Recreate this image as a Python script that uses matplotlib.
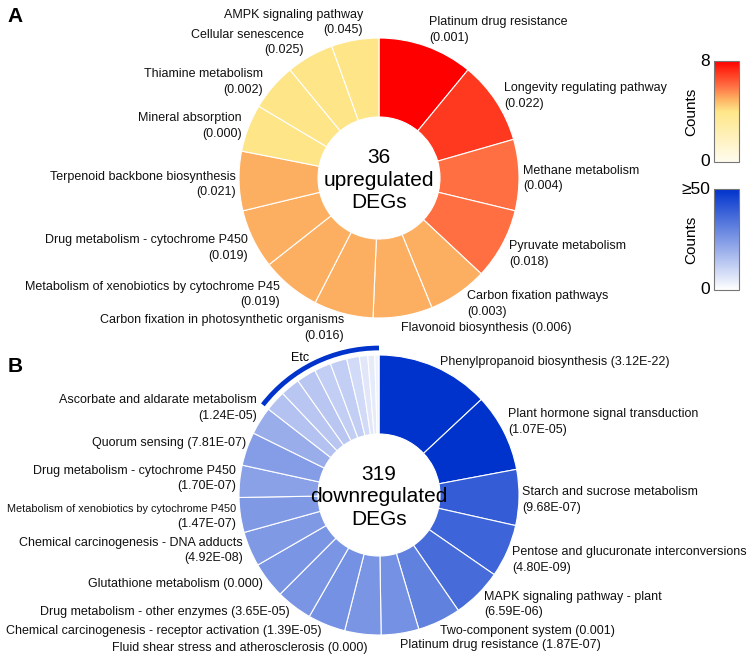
import numpy as np
import matplotlib as mpl
import matplotlib.pyplot as plt
from matplotlib.colors import LinearSegmentedColormap, Normalize
from matplotlib.patches import Arc

plt.rcParams['font.family'] = ['Liberation Sans', 'DejaVu Sans']

# upregulated DEGs (A)
up_terms = ["Platinum drug resistance", "Longevity regulating pathway", "Methane metabolism",
            "Pyruvate metabolism", "Carbon fixation pathways", "Flavonoid biosynthesis",
            "Carbon fixation in photosynthetic organisms", "Metabolism of xenobiotics by cytochrome P45",
            "Drug metabolism - cytochrome P450", "Terpenoid backbone biosynthesis",
            "Mineral absorption", "Thiamine metabolism", "Cellular senescence", "AMPK signaling pathway"]
up_p = ["0.001", "0.022", "0.004", "0.018", "0.003", "0.006", "0.016", "0.019",
        "0.019", "0.021", "0.000", "0.002", "0.025", "0.045"]
up_counts = [8, 7, 6, 6, 5, 5, 5, 5, 5, 5, 4, 4, 4, 4]

# downregulated DEGs (B)
down_terms = ["Phenylpropanoid biosynthesis", "Plant hormone signal transduction",
              "Starch and sucrose metabolism", "Pentose and glucuronate interconversions",
              "MAPK signaling pathway - plant", "Two-component system", "Platinum drug resistance",
              "Fluid shear stress and atherosclerosis", "Chemical carcinogenesis - receptor activation",
              "Drug metabolism - other enzymes", "Glutathione metabolism",
              "Chemical carcinogenesis - DNA adducts", "Metabolism of xenobiotics by cytochrome P450",
              "Drug metabolism - cytochrome P450", "Quorum sensing", "Ascorbate and aldarate metabolism"]
down_p = ["3.12E-22", "1.07E-05", "9.68E-07", "4.80E-09", "6.59E-06", "0.001", "1.87E-07",
          "0.000", "1.39E-05", "3.65E-05", "0.000", "4.92E-08", "1.47E-07", "1.70E-07",
          "7.81E-07", "1.24E-05"]
down_counts = [81, 56, 40, 38, 36, 31, 27, 26, 27, 26, 26, 25, 25, 23, 24, 20]
etc_counts = [15, 14, 14, 12, 12, 9, 6, 5, 3]

# label anchors in pixels: x, y of first line, ha, two lines, font size of term
up_pos = [(429, 22, 'left', 1, 9), (504, 88, 'left', 1, 9), (523, 171, 'left', 1, 9),
          (509, 246, 'left', 1, 9), (467, 296, 'left', 1, 9), (401, 328, 'left', 0, 9),
          (344, 320, 'right', 1, 9), (280, 287, 'right', 1, 9), (248, 240, 'right', 1, 9),
          (236, 177, 'right', 1, 9), (242, 118, 'right', 1, 9), (263, 74, 'right', 1, 9),
          (304, 35, 'right', 1, 9), (363, 15, 'right', 1, 9)]
down_pos = [(440, 362, 'left', 0, 9), (508, 414, 'left', 1, 9), (522, 492, 'left', 1, 9),
            (512, 552, 'left', 1, 9), (484, 597, 'left', 1, 9), (440, 631, 'left', 0, 9),
            (400, 645, 'left', 0, 9), (367, 648, 'right', 0, 9), (322, 631, 'right', 0, 9),
            (290, 612, 'right', 0, 9), (263, 584, 'right', 0, 9), (243, 543, 'right', 1, 9),
            (236, 509, 'right', 1, 7.8), (236, 471, 'right', 1, 9), (246, 443, 'right', 0, 9),
            (257, 400, 'right', 1, 9)]

W, H = 747, 661
R, RIN = 140, 61
GAP = 15.5

fig = plt.figure(figsize=(W / 100, H / 100), dpi=100)
ax = fig.add_axes([0, 0, 1, 1])

cmap_up = LinearSegmentedColormap.from_list(
    'up', [(0, '#FFFCEE'), (0.5, '#FEE688'), (0.625, '#FDB062'),
           (0.75, '#FF7043'), (0.875, '#FF3B20'), (1, '#FF0000')])
norm_up = Normalize(0, 8)
cmap_down = LinearSegmentedColormap.from_list('down', ['#FFFFFF', '#0033CC'])
norm_down = Normalize(0, 50, clip=True)


def donut(counts, cmap, norm, cx, cy):
    cols = cmap(norm(np.array(counts, dtype=float)))
    ax.pie(counts, colors=cols, startangle=90, counterclock=False, radius=R,
           center=(cx, H - cy),
           wedgeprops=dict(width=R - RIN, edgecolor='white', linewidth=0.8))


def labels(terms, pvals, pos):
    for t, p, (x, y, ha, two, fs) in zip(terms, pvals, pos):
        kw = dict(ha=ha, va='center', color='#111111')
        if two:
            ax.text(x, H - y, t, fontsize=fs, **kw)
            ax.text(x, H - y - GAP, f"({p})", fontsize=9, **kw)
        else:
            ax.text(x, H - y, f"{t} ({p})", fontsize=fs, **kw)


donut(up_counts, cmap_up, norm_up, 379, 178)
donut(down_counts + etc_counts, cmap_down, norm_down, 379, 495)
labels(up_terms, up_p, up_pos)
labels(down_terms, down_p, down_pos)

# Etc bracket arc
tot = sum(down_counts) + sum(etc_counts)
ang = 360 * sum(etc_counts) / tot
ax.add_patch(Arc((379, H - 495), 2 * 147, 2 * 147, theta1=90, theta2=90 + ang,
                 color='#0033CC', lw=3.4))
ax.text(300, H - 358, "Etc", ha='center', va='center', fontsize=9)

ax.text(379, H - 180, "36\nupregulated\nDEGs", ha='center', va='center', fontsize=15, linespacing=1.25)
ax.text(379, H - 497, "319\ndownregulated\nDEGs", ha='center', va='center', fontsize=15, linespacing=1.25)

ax.text(15, H - 17, "A", ha='center', va='center', fontsize=15, fontweight='bold')
ax.text(15, H - 367, "B", ha='center', va='center', fontsize=15, fontweight='bold')

ax.set_xlim(0, W)
ax.set_ylim(0, H)
ax.set_aspect('auto')
ax.axis('off')

# colorbars
for (top, bot), cmap, norm, tlab in [((61, 162), cmap_up, norm_up, "8"),
                                      ((189, 290), cmap_down, Normalize(0, 50), "≥50")]:
    cax = fig.add_axes([714 / W, (H - bot) / H, 25 / W, (bot - top) / H])
    cb = mpl.colorbar.ColorbarBase(cax, cmap=cmap, norm=norm)
    cb.set_ticks([])
    cb.outline.set_edgecolor('#777777')
    cb.outline.set_linewidth(0.8)
    ax.text(710, H - top, tlab, ha='right', va='center', fontsize=12.5)
    ax.text(710, H - bot, "0", ha='right', va='center', fontsize=12.5)
    ax.text(691, H - (top + bot) / 2, "Counts", ha='center', va='center', rotation=90, fontsize=11)

fig.savefig("out.png", dpi=100)
